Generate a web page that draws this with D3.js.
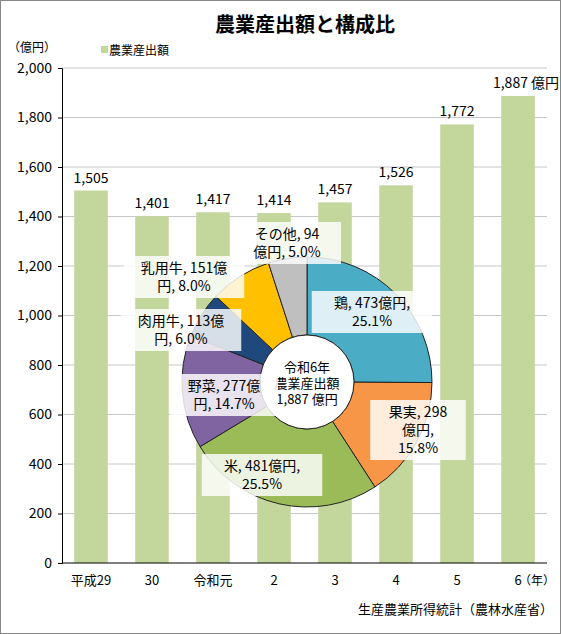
<!DOCTYPE html>
<html><head><meta charset="utf-8">
<script src="https://cdn.jsdelivr.net/npm/d3@7"></script>
<style>
body{margin:0;background:#fff;font-family:"Noto Sans CJK JP",sans-serif;}
</style></head><body>
<svg id="c" width="561" height="634"></svg>
<script>
var years = ["平成29","30","令和元","2","3","4","5","6"];
var values = [1505,1401,1417,1414,1457,1526,1772,1887];
var yTicks = [0,200,400,600,800,1000,1200,1400,1600,1800,2000];
var pieNames = ["鶏","果実","米","野菜","肉用牛","乳用牛","その他"];
var pieValues = [473,298,481,277,113,151,94];
var piePct = ["25.1%","15.8%","25.5%","14.7%","6.0%","8.0%","5.0%"];
var pieColors = ["#4bacc6","#f79646","#9bbb59","#8064a2","#1f497d","#ffc000","#bfbfbf"];

var svg = d3.select("#c");
var font = "Noto Sans CJK JP";
svg.append("rect").attr("x",0.5).attr("y",0.5).attr("width",560).attr("height",633)
  .attr("fill","#fff").attr("stroke","#888");

svg.append("text").attr("x",305).attr("y",32).attr("text-anchor","middle")
  .attr("font-size",20).attr("font-weight","bold").attr("font-family",font).text("農業産出額と構成比");
svg.append("text").attr("x",8).attr("y",52).attr("font-size",12).attr("font-family",font).text("（億円）");
svg.append("rect").attr("x",101).attr("y",46).attr("width",7).attr("height",7).attr("fill","#c3d69b");
svg.append("text").attr("x",109).attr("y",55).attr("font-size",12).attr("font-family",font).text("農業産出額");

var x = d3.scaleBand().domain(years).range([62,547]).paddingInner(0.45).paddingOuter(0.2);
var y = d3.scaleLinear().domain([0,2000]).range([563,68]);

svg.append("g").selectAll("line").data(yTicks.slice(1)).join("line")
  .attr("x1",62).attr("x2",547).attr("y1",function(d){return y(d);}).attr("y2",function(d){return y(d);})
  .attr("stroke","#c8c8c8");

var ya = svg.append("g").attr("transform","translate(62,0)")
  .call(d3.axisLeft(y).tickValues(yTicks).tickSize(4).tickFormat(d3.format(",")));
ya.selectAll("text").attr("font-size",14).attr("font-family",font).attr("fill","#000").attr("x",-10);
ya.select(".domain").attr("stroke","#000");

svg.append("g").selectAll("rect").data(values).join("rect")
  .attr("x",function(d,i){return x(years[i]);}).attr("width",x.bandwidth())
  .attr("y",function(d){return y(d);}).attr("height",function(d){return y(0)-y(d);})
  .attr("fill","#c3d69b");
svg.append("g").selectAll("text").data(values).join("text")
  .attr("x",function(d,i){return x(years[i])+x.bandwidth()/2 + (i==7?8:0);})
  .attr("y",function(d){return y(d)-8;}).attr("text-anchor","middle")
  .attr("font-size",14).attr("font-family",font)
  .text(function(d,i){return d3.format(",")(d)+(i==7?" 億円":"");});

svg.append("line").attr("x1",62).attr("x2",547).attr("y1",563).attr("y2",563).attr("stroke","#000");
svg.append("g").selectAll("text").data(years).join("text")
  .attr("x",function(d){return x(d)+x.bandwidth()/2;}).attr("y",585).attr("text-anchor","middle")
  .attr("font-size",13).attr("font-family",font).text(function(d){return d;});
svg.append("text").attr("x",555).attr("y",585).attr("text-anchor","end").attr("font-size",12)
  .attr("font-family",font).text("（年）");
svg.append("text").attr("x",553).attr("y",614).attr("text-anchor","end").attr("font-size",13)
  .attr("font-family",font).text("生産農業所得統計（農林水産省）");

// pie
var cx = 307, cy = 382, R = 125, r0 = 47;
var pie = d3.pie().sort(null).value(function(d){return d;});
var arcs = pie(pieValues);
var arc = d3.arc().innerRadius(r0).outerRadius(R);
var g = svg.append("g").attr("transform","translate("+cx+","+cy+")");
g.selectAll("path").data(arcs).join("path").attr("d",arc)
  .attr("fill",function(d,i){return pieColors[i];}).attr("stroke","#222").attr("stroke-width",1);
g.append("circle").attr("r",r0).attr("fill","#fff").attr("stroke","#222");
["令和6年","農業産出額","1,887 億円"].forEach(function(s,i){
  g.append("text").attr("text-anchor","middle").attr("font-size",13).attr("font-family",font)
    .attr("x",0).attr("y",-10+i*16).text(s);
});

// label boxes: [cx, cy, lines]
var labelPos = [
  [372,312,["鶏, 473億円,","25.1%"]],
  [418,430,["果実, 298","億円,","15.8%"]],
  [262,475,["米, 481億円,","25.5%"]],
  [224,395,["野菜, 277億","円, 14.7%"]],
  [181,330,["肉用牛, 113億","円, 6.0%"]],
  [184,277,["乳用牛, 151億","円, 8.0%"]],
  [287,243,["その他, 94","億円, 5.0%"]]
];
labelPos.forEach(function(p){
  var lh = 18, w = d3.max(p[2],function(s){return s.length;})*12.5+8, h = p[2].length*lh+6;
  svg.append("rect").attr("x",p[0]-w/2).attr("y",p[1]-h/2).attr("width",w).attr("height",h)
    .attr("fill","#fff").attr("opacity",0.82);
  p[2].forEach(function(s,i){
    svg.append("text").attr("text-anchor","middle").attr("font-size",14).attr("font-family",font)
      .attr("x",p[0]).attr("y",p[1]-h/2+17+i*lh).text(s);
  });
});
</script></body></html>
